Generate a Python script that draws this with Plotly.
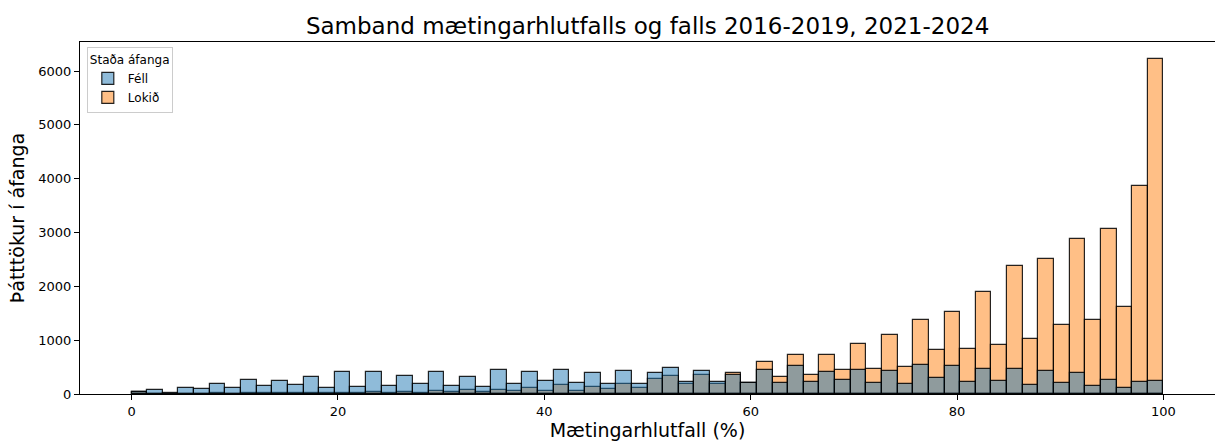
import numpy as np
import plotly.graph_objects as go

# Histogram bins: 66 equal bins spanning 0..100 %
bin_start = 0.0
bin_end = 100.0
n_bins = 66

fell = [43, 68, 19, 105, 87, 185, 117, 260, 148, 235, 167, 315, 111, 408, 124, 402,
        142, 328, 179, 402, 142, 309, 124, 439, 185, 402, 250, 445, 198, 383, 179, 420,
        192, 383, 482, 222, 426, 216, 346, 205, 439, 210, 519, 229, 402, 266, 451, 210,
        426, 190, 540, 297, 513, 229, 463, 247, 463, 173, 433, 204, 389, 142, 260, 105,
        229, 247]

lokid = [30, 5, 3, 8, 6, 10, 8, 12, 10, 15, 12, 20, 15, 25, 15, 30,
         18, 35, 20, 65, 30, 68, 37, 80, 49, 105, 49, 161, 62, 130, 87, 179,
         105, 272, 328, 179, 358, 179, 389, 200, 593, 315, 729, 352, 729, 451, 933, 470,
         1088, 500, 1370, 810, 1520, 840, 1891, 908, 2385, 1013, 2509, 1273, 2880, 1366, 3065, 1625,
         3869, 6229]

x_ticks = [0, 20, 40, 60, 80, 100]
y_ticks = [0, 1000, 2000, 3000, 4000, 5000, 6000]

title = "Samband mætingarhlutfalls og falls 2016-2019, 2021-2024"
x_label = "Mætingarhlutfall (%)"
y_label = "Þátttökur í áfanga"
legend_title = "Staða áfanga"

edges = np.linspace(bin_start, bin_end, n_bins + 1)
centers = (edges[:-1] + edges[1:]) / 2
width = edges[1] - edges[0]

fig = go.Figure()
fig.add_trace(go.Bar(
    x=centers, y=lokid, width=width, name="Lokið",
    marker=dict(color="rgba(255,127,14,0.5)", line=dict(color="rgba(0,0,0,0.85)", width=1.2)),
    legendrank=2,
))
fig.add_trace(go.Bar(
    x=centers, y=fell, width=width, name="Féll",
    marker=dict(color="rgba(31,119,180,0.5)", line=dict(color="rgba(0,0,0,0.85)", width=1.2)),
    legendrank=1,
))

font = "DejaVu Sans"
fig.update_layout(
    width=1215, height=441,
    barmode="overlay", bargap=0,
    plot_bgcolor="white", paper_bgcolor="white",
    margin=dict(l=80, r=0, t=42, b=47),
    font=dict(family=font, color="black", size=13),
    title=dict(text=title, x=0.533, xanchor="center", y=0.942, yanchor="middle",
               font=dict(size=23, family=font, color="black")),
    legend=dict(
        title=dict(text=legend_title, font=dict(size=12)),
        x=0.006, y=0.985, xanchor="left", yanchor="top",
        bgcolor="rgba(255,255,255,0.8)", bordercolor="#cccccc", borderwidth=1,
        font=dict(size=12), traceorder="normal",
    ),
    showlegend=True,
)
fig.update_xaxes(
    range=[-5, 105], tickvals=x_ticks, ticks="outside", ticklen=5, tickcolor="black",
    showline=True, linecolor="black", linewidth=1, mirror=True, showgrid=False, zeroline=False,
    title=dict(text=x_label, font=dict(size=19, family=font), standoff=2),
    tickfont=dict(size=13),
)
fig.update_yaxes(
    range=[0, 6540], tickvals=y_ticks, ticks="outside", ticklen=5, tickcolor="black",
    showline=True, linecolor="black", linewidth=1, mirror=True, showgrid=False, zeroline=False,
    title=dict(text=y_label, font=dict(size=19, family=font), standoff=8),
    tickfont=dict(size=13),
)

fig.write_html(
    "out.html",
    config={"displayModeBar": False},
    post_script="document.body.style.margin='0';document.body.style.overflow='hidden';",
)
